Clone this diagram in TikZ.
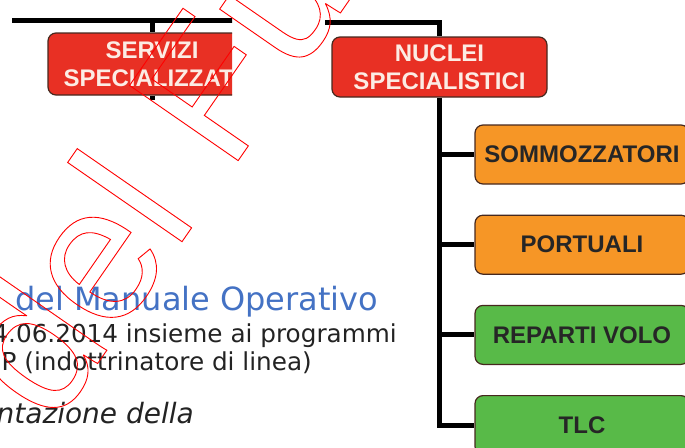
\documentclass[tikz,border=0pt]{standalone}
\usepackage{fontspec}
\setmainfont{DejaVu Sans}
\newfontfamily\unitfont{Liberation Sans}
\newfontfamily\markfont{Liberation Sans}
\usetikzlibrary{positioning}

\definecolor{unitred}{RGB}{232,48,36}
\definecolor{unitorange}{RGB}{246,150,38}
\definecolor{unitgreen}{RGB}{88,186,72}
\definecolor{unitedge}{RGB}{70,40,30}
\definecolor{unitlabel}{RGB}{252,236,228}
\definecolor{headblue}{RGB}{68,114,196}
\definecolor{bodygray}{RGB}{35,35,35}

\newcommand{\outlined}[1]{\special{pdf:literal direct 1 Tr 0.9 w 1 0 0 RG}#1\special{pdf:literal direct 0 Tr}}

\tikzset{
  unit/.style={draw=unitedge, line width=1.2pt, rounded corners=8pt,
    minimum width=214pt, minimum height=59pt, inner sep=0pt, align=center,
    font=\unitfont\bfseries\fontsize{24}{28}\selectfont},
  redunit/.style={unit, fill=unitred, text=unitlabel},
  orangeunit/.style={unit, fill=unitorange, text=black!85},
  greenunit/.style={unit, fill=unitgreen, text=black!85},
  wire/.style={line width=5pt, black},
  bodytext/.style={inner sep=0pt, text=bodygray, font=\fontsize{24.7}{30}\selectfont},
}

\begin{document}
\begin{tikzpicture}[x=1pt, y=-1pt]
  \useasboundingbox (0,0) rectangle (685,447);
  \clip (0,0) rectangle (685,447);

  \begin{scope}
    \clip (0,0) rectangle (232,100);
    \node[redunit, minimum width=208pt, minimum height=62pt] (servizi) at (152,64) {SERVIZI\\SPECIALIZZATI};
    \coordinate (busleft) at (12,20);
    \coordinate (busright) at (240,20);
    \draw[wire] (busleft) -- (busright);
    \draw[wire] (servizi.north |- busleft) -- (servizi.north);
    \draw[wire] (servizi.south) -- ++(0,4);
  \end{scope}

  \node[redunit, minimum width=215pt, minimum height=60pt] (nuclei) at (439.5,67) {NUCLEI\\SPECIALISTICI};
  \node[orangeunit] (sommozzatori) at (582,154.5) {SOMMOZZATORI};
  \node[orangeunit, below=30pt of sommozzatori] (portuali) {PORTUALI};
  \node[greenunit, below=30pt of portuali] (volo) {REPARTI VOLO};
  \node[greenunit, below=30pt of volo] (tlc) {TLC};

  \coordinate (bustop) at (325,22);
  \draw[wire] (bustop) -| (nuclei.north);
  \draw[wire] (nuclei.south) |- (tlc.west);
  \foreach \u in {sommozzatori,portuali,volo}
    \draw[wire] (nuclei.south |- \u.west) -- (\u.west);

  \node[anchor=base west, inner sep=0pt, text=headblue, font=\fontsize{32}{38}\selectfont] (heading) at (15,310) {del Manuale Operativo};
  \node[bodytext, anchor=base east] (dateline) at (397,342) {4.06.2014 insieme ai programmi};
  \node[bodytext, anchor=base east] (roleline) at (312,370) {P (indottrinatore di linea)};
  \node[bodytext, anchor=base east, font=\itshape\fontsize{28}{34}\selectfont] (italicline) at (194,423) {ntazione della};

  \node[rotate=55.3, anchor=base west, inner sep=0pt, text=red, font=\markfont\fontsize{192}{192}\selectfont] (watermark) at (53,428)
    {\outlined{del Fu}};
\end{tikzpicture}
\end{document}
